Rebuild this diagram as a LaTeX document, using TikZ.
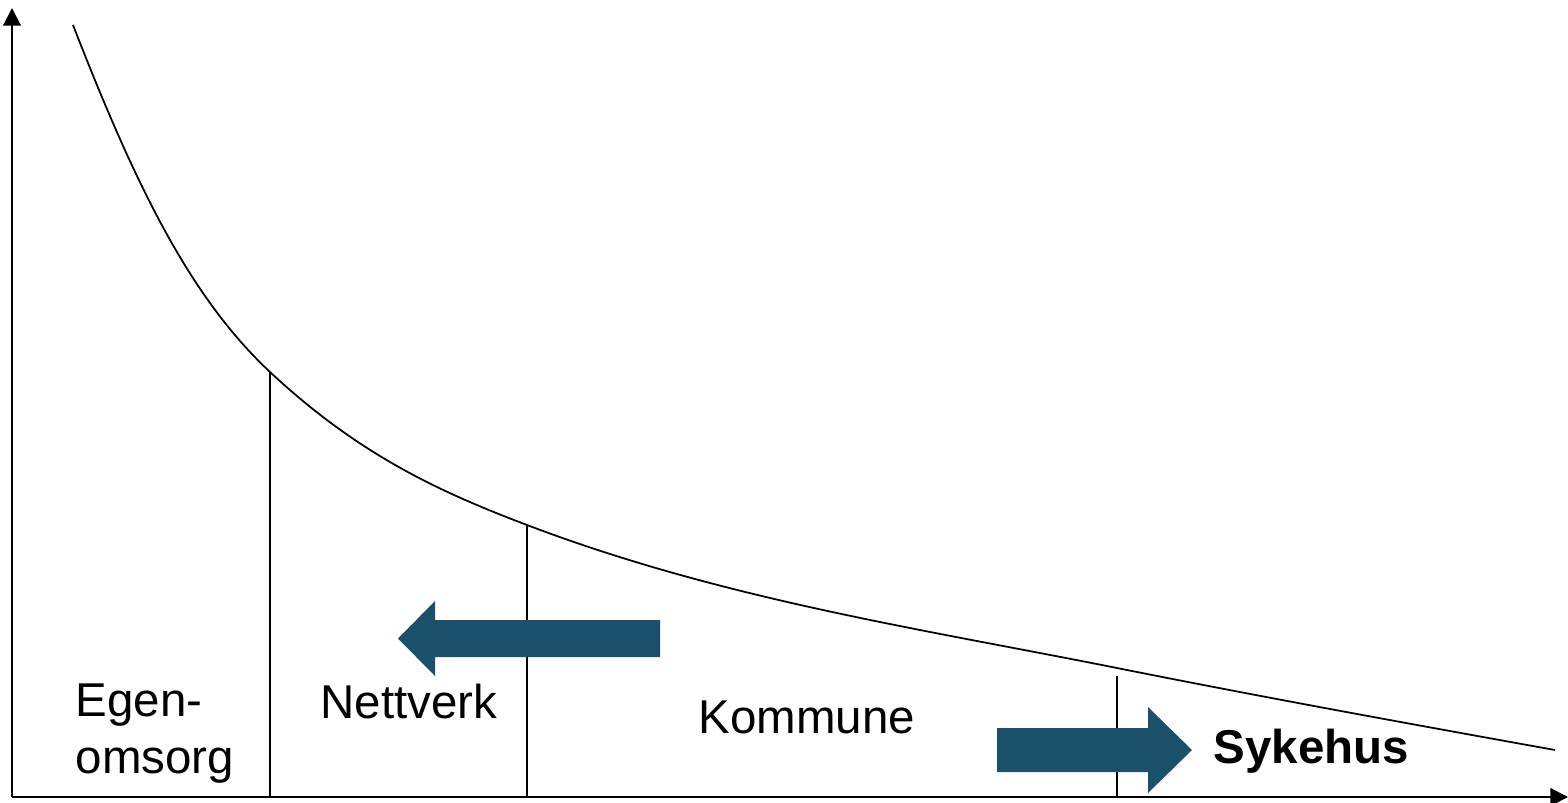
\documentclass[tikz,border=0pt]{standalone}
\usepackage{fontspec}
\setmainfont{Liberation Sans}
\usetikzlibrary{arrows.meta}
\definecolor{teal}{HTML}{1A5069}
\tikzset{
  axis/.style={line width=0.6pt,-{Triangle[length=5pt,width=5pt]}},
  divider/.style={line width=0.4pt},
  curve/.style={line width=0.5pt},
  lbl/.style={anchor=base west,inner sep=0pt,font=\fontsize{13.5}{16.2}\selectfont,align=left},
  bigarrow/.style={fill=teal,draw=none}
}
\begin{document}
\begin{tikzpicture}[x=0.01cm,y=-0.01cm]
\useasboundingbox (0,0) rectangle (1568,802);
\coordinate (O) at (12,797);
\coordinate (Ytop) at (12,8);
\coordinate (Xend) at (1568,797);
\draw[axis] (O) -- (Ytop);
\draw[axis] (O) -- (Xend);
% curve
\coordinate (c0) at (73,25);
\coordinate (c1) at (270,372);
\coordinate (c2) at (527,525);
\coordinate (c3) at (1117,668);
\coordinate (c4) at (1555,750);
\draw[curve] (c0) .. controls (136,187) and (190,297) .. (c1)
  .. controls (360,456) and (441.3,492.4) .. (c2)
  .. controls (723.7,599.7) and (920.3,628.7) .. (c3)
  .. controls (1263,697.2) and (1409,723.7) .. (c4);
% dividers
\coordinate (d1b) at (270,797);
\coordinate (d2b) at (527,797);
\coordinate (d3t) at (1117,676); \coordinate (d3b) at (1117,797);
\draw[divider] (c1) -- (d1b);
\draw[divider] (c2) -- (d2b);
\draw[divider] (d3t) -- (d3b);
% arrows
\fill[bigarrow] (660,620) -- (435,620) -- (435,601) -- (398,638.5) -- (435,676) -- (435,657) -- (660,657) -- cycle;
\fill[bigarrow] (997,728) -- (1148,728) -- (1148,707) -- (1192,750) -- (1148,793) -- (1148,772) -- (997,772) -- cycle;
% labels
\node[lbl] (egen) at (75,773) {Egen-\\omsorg};
\node[lbl] (nett) at (320,718) {Nettverk};
\node[lbl] (komm) at (698,733) {Kommune};
\node[lbl,font=\fontsize{13.5}{16.2}\selectfont\bfseries] (syke) at (1213,763) {Sykehus};
\end{tikzpicture}
\end{document}
